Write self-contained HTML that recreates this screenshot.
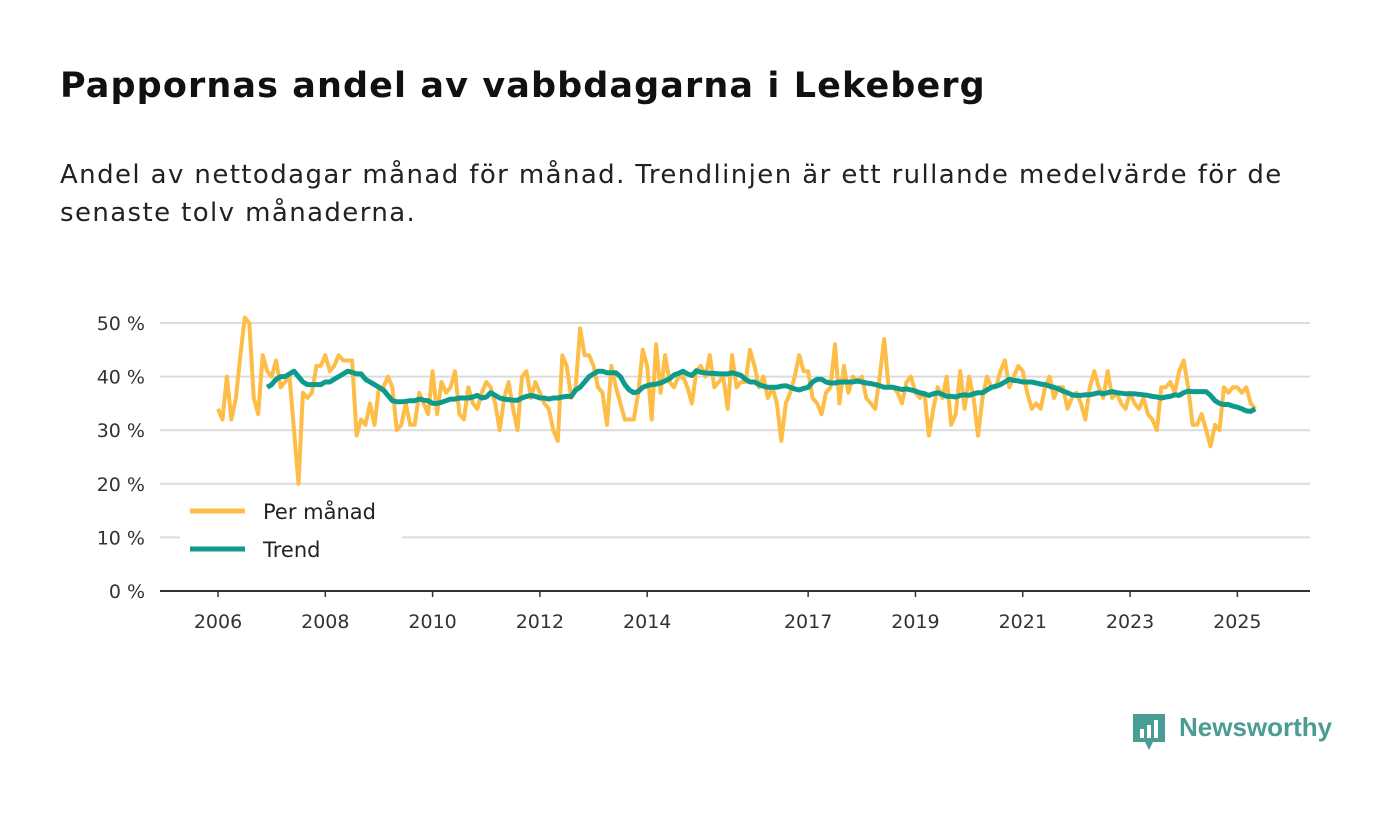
<!DOCTYPE html>
<html><head><meta charset="utf-8"><style>
body{margin:0;background:#fff;font-family:"DejaVu Sans","Liberation Sans",sans-serif;}
#wrap{position:relative;width:1400px;height:813px;overflow:hidden;}
h1{position:absolute;left:60px;top:66px;margin:0;font-size:35px;letter-spacing:1.1px;font-weight:bold;color:#111;white-space:nowrap;}
p.sub{position:absolute;left:60px;top:156px;margin:0;font-size:26px;letter-spacing:1.4px;line-height:38px;color:#222;width:1300px;white-space:nowrap;}
svg{position:absolute;left:0;top:0;}
</style></head><body>
<div id="wrap">
<h1>Pappornas andel av vabbdagarna i Lekeberg</h1>
<p class="sub">Andel av nettodagar månad för månad. Trendlinjen är ett rullande medelvärde för de<br>senaste tolv månaderna.</p>
<svg id="chart" width="1400" height="813"></svg>
<div style="position:absolute;left:1133px;top:712px;height:40px;">
<svg width="34" height="40" style="position:absolute;left:0;top:2px"><path d="M0 0H32V28H20L16 36L12 28H0Z" fill="#4a9d94"/><rect x="7" y="15" width="4" height="9" fill="#fff"/><rect x="14" y="11" width="4" height="13" fill="#fff"/><rect x="21" y="6" width="4" height="18" fill="#fff"/></svg>
<span style="position:absolute;left:46px;top:0;font-size:26px;font-weight:bold;color:#4a9d94;white-space:nowrap;font-family:'Liberation Sans',sans-serif">Newsworthy</span>
</div>
</div>
<script>
const monthly = [34,32,40,32,36,44,51,50,36,33,44,41,
40,43,38,39,40,30,20,37,36,37,42,42,
44,41,42,44,43,43,43,29,32,31,35,31,
38,38,40,38,30,31,35,31,31,37,35,33,
41,33,39,37,38,41,33,32,38,35,34,37,
39,38,35,30,36,39,34,30,40,41,36,39,
37,35,34,30,28,44,42,36,38,49,44,44,
42,38,37,31,42,38,35,32,32,32,37,45,
42,32,46,37,44,39,38,40,40,38,35,41,
42,40,44,38,39,40,34,44,38,39,39,45,
42,38,40,36,38,35,28,35,37,40,44,41,
41,36,35,33,37,38,46,35,42,37,40,39,
40,36,35,34,40,47,38,38,37,35,39,40,
37,36,37,29,34,38,36,40,31,33,41,34,
40,36,29,36,40,38,38,41,43,38,40,42,
41,37,34,35,34,38,40,36,38,38,34,36,
37,35,32,38,41,38,36,41,36,37,35,34,
37,35,34,36,33,32,30,38,38,39,37,41,
43,38,31,31,33,30,27,31,30,38,37,38,
38,37,38,35,34];
const trendStart = 2006 + 11/12;
const trend = [38,
38.5,39.5,40,40,40.5,41,40,39,38.5,38.5,38.5,38.5,
39,39,39.5,40,40.5,41,40.8,40.5,40.5,39.5,39,38.5,
38,37.5,36.5,35.5,35.3,35.3,35.4,35.5,35.5,35.8,35.6,35.5,
35,35,35.2,35.5,35.8,35.8,36,36,36,36.2,36.5,36,
36.2,37,36.5,36,35.8,35.7,35.6,35.6,36,36.3,36.5,36.3,
36,36,35.8,36,36,36.2,36.3,36.3,37.5,38,39,40,
40.5,41,41,40.7,40.7,40.7,40,38.5,37.5,37,37.2,38,
38.3,38.5,38.6,38.8,39.2,39.6,40.3,40.6,41,40.5,40.2,41.1,
40.8,40.7,40.6,40.6,40.5,40.5,40.5,40.7,40.5,40.2,39.5,39,
39,38.5,38.2,38,38,38,38.2,38.3,38,37.7,37.5,37.8,
38,39,39.5,39.5,39,38.8,38.8,39,39,39,39,39.2,
39,38.8,38.7,38.5,38.3,38,38,38,37.8,37.6,37.7,37.5,
37.3,37,36.8,36.5,36.8,37,36.7,36.3,36.3,36.2,36.5,36.6,
36.5,36.8,37,37,37.5,38,38.2,38.5,39,39.5,39.3,39.2,
39,39,39,38.8,38.6,38.5,38.2,38,37.7,37.3,37,36.6,
36.5,36.5,36.6,36.6,36.8,37,36.8,37,37.2,37,36.9,36.8,
36.8,36.8,36.7,36.6,36.5,36.3,36.2,36,36.2,36.3,36.6,36.5,
37,37.3,37.2,37.2,37.2,37.2,36.5,35.5,35,34.8,34.8,34.5,
34.3,34,33.6,33.5,34];
const yTicks = [0,10,20,30,40,50];
const xTicks = [2006,2008,2010,2012,2014,2017,2019,2021,2023,2025];

const svg = document.getElementById('chart');
const NS = 'http://www.w3.org/2000/svg';
const FONT = 'DejaVu Sans, Liberation Sans, sans-serif';
const x = yr => 218 + (yr - 2006) * 53.65;
const y = v => 591 - v * 5.36;
function mk(tag, attrs){const e=document.createElementNS(NS,tag);for(const k in attrs)e.setAttribute(k,attrs[k]);svg.appendChild(e);return e;}

yTicks.forEach(t=>{
  if(t>0){const g=mk('line',{x1:160,x2:1310,y1:y(t),y2:y(t),stroke:'#dcdcdc','stroke-width':2});
  
  }
  const l=mk('text',{x:145,y:y(t)+7,'text-anchor':'end','font-size':19,fill:'#333','font-family':FONT});
  l.textContent=t+' %';
  
  
});
const ax=mk('line',{x1:160,x2:1310,y1:591,y2:591,stroke:'#333','stroke-width':2});


xTicks.forEach(t=>{
  const tk=mk('line',{x1:x(t),x2:x(t),y1:591,y2:597,stroke:'#333','stroke-width':1.5});
  
  
  const l=mk('text',{x:x(t),y:628,'text-anchor':'middle','font-size':19,fill:'#333','font-family':FONT});
  l.textContent=t;
  
  
});
const mp=mk('polyline',{points:monthly.map((v,i)=>x(2006+i/12).toFixed(1)+','+y(v).toFixed(1)).join(' '),fill:'none',stroke:'#fdbd47','stroke-width':4,'stroke-linejoin':'round'});


const tp=mk('polyline',{points:trend.map((v,i)=>x(trendStart+i/12).toFixed(1)+','+y(v).toFixed(1)).join(' '),fill:'none',stroke:'#0e9b8b','stroke-width':5,'stroke-linejoin':'round'});



const lb=mk('rect',{x:180,y:492,width:222,height:78,fill:'#fff'});


[['Per månad','#fdbd47',511],['Trend','#0e9b8b',549]].forEach(([n,c,yy])=>{
  const s=mk('line',{x1:190,x2:245,y1:yy,y2:yy,stroke:c,'stroke-width':5});
  
  
  const t=mk('text',{x:263,y:yy+8,'font-size':21,fill:'#222','font-family':FONT});
  t.textContent=n;
  
  
});
</script>
</body></html>
